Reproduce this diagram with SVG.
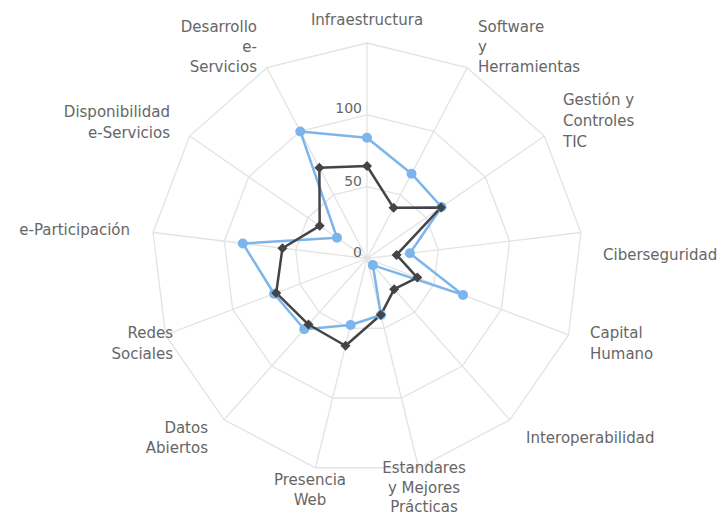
<svg xmlns="http://www.w3.org/2000/svg" width="722" height="516" viewBox="0 0 722 516">
<style>
.grid{fill:none;stroke:#e3e3e3;stroke-width:1.3}
.lbl{font-family:"DejaVu Sans",Verdana,sans-serif;font-size:15px;fill:#666666}
.num{font-family:"DejaVu Sans",Verdana,sans-serif;font-size:14px;fill:#666666;text-anchor:end}
.s1{fill:none;stroke:#7cb5ec;stroke-width:2.5;stroke-linejoin:round}
.s2{fill:none;stroke:#434348;stroke-width:2.5;stroke-linejoin:round}
</style>
<defs>
<circle id="dot" r="5" fill="#7cb5ec"/>
<path id="dia" d="M0,-5L5,0L0,5L-5,0Z" fill="#434348"/>
</defs>
<rect width="722" height="516" fill="#ffffff"/>
<g id="grid">
<polygon class="grid" points="367,43 467.15,67.68 544.35,136.08 580.93,232.52 568.5,334.92 509.9,419.8 418.57,467.74 315.43,467.74 224.1,419.8 165.5,334.92 153.07,232.52 189.65,136.08 266.85,67.68"/>
<polygon class="grid" points="367,114.83 433.77,131.28 485.24,176.89 509.62,241.18 501.33,309.44 462.27,366.04 401.38,397.99 332.62,397.99 271.73,366.04 232.67,309.44 224.38,241.18 248.76,176.89 300.23,131.28"/>
<polygon class="grid" points="367,186.67 400.38,194.9 426.12,217.7 438.31,249.84 434.16,283.97 414.63,312.27 384.19,328.24 349.81,328.24 319.37,312.27 299.84,283.97 295.69,249.84 307.88,217.7 333.62,194.9"/>
<path class="grid" d="M367,258.5L367,43M367,258.5L467.15,67.68M367,258.5L544.35,136.08M367,258.5L580.93,232.52M367,258.5L568.5,334.92M367,258.5L509.9,419.8M367,258.5L418.57,467.74M367,258.5L315.43,467.74M367,258.5L224.1,419.8M367,258.5L165.5,334.92M367,258.5L153.07,232.52M367,258.5L189.65,136.08M367,258.5L266.85,67.68"/>
</g>
<g id="scale">
<text class="num" x="362" y="113">100</text>
<text class="num" x="362" y="186">50</text>
<text class="num" x="362" y="257">0</text>
</g>
<g id="connectors">
<polygon class="s1" points="367,137.7 411.52,173.67 441.56,207.03 409.89,253.29 463.03,294.92 372.84,265.09 380.93,315.01 350.61,325.01 304.27,329.31 274.06,293.75 242.81,243.42 336.96,237.77 300.31,131.44"/>
<polygon class="s2" points="367,166 393.58,207.85 440.99,207.43 396.58,254.91 417.3,277.58 394.19,289.19 380.88,314.81 345.49,345.79 308.51,324.52 276.21,292.93 282.42,248.23 319.68,225.84 319.37,167.74"/>
</g>
<g id="series1-markers">
<use href="#dot" x="367" y="137.7"/><use href="#dot" x="411.52" y="173.67"/><use href="#dot" x="441.56" y="207.03"/><use href="#dot" x="409.89" y="253.29"/><use href="#dot" x="463.03" y="294.92"/><use href="#dot" x="372.84" y="265.09"/><use href="#dot" x="380.93" y="315.01"/><use href="#dot" x="350.61" y="325.01"/><use href="#dot" x="304.27" y="329.31"/><use href="#dot" x="274.06" y="293.75"/><use href="#dot" x="242.81" y="243.42"/><use href="#dot" x="336.96" y="237.77"/><use href="#dot" x="300.31" y="131.44"/>
</g>
<g id="series2-markers">
<use href="#dia" x="367" y="166"/><use href="#dia" x="393.58" y="207.85"/><use href="#dia" x="440.99" y="207.43"/><use href="#dia" x="396.58" y="254.91"/><use href="#dia" x="417.3" y="277.58"/><use href="#dia" x="394.19" y="289.19"/><use href="#dia" x="380.88" y="314.81"/><use href="#dia" x="345.49" y="345.79"/><use href="#dia" x="308.51" y="324.52"/><use href="#dia" x="276.21" y="292.93"/><use href="#dia" x="282.42" y="248.23"/><use href="#dia" x="319.68" y="225.84"/><use href="#dia" x="319.37" y="167.74"/>
</g>
<g id="label-infraestructura"><text class="lbl" x="367" y="25" text-anchor="middle">Infraestructura</text></g>
<g id="label-software"><text class="lbl" x="478" y="32">Software<tspan x="478" dy="20">y</tspan><tspan x="478" dy="20">Herramientas</tspan></text></g>
<g id="label-gestion"><text class="lbl" x="563" y="105">Gestión y<tspan x="563" dy="21">Controles</tspan><tspan x="563" dy="21">TIC</tspan></text></g>
<g id="label-ciberseguridad"><text class="lbl" x="603" y="260">Ciberseguridad</text></g>
<g id="label-capital"><text class="lbl" x="590" y="338">Capital<tspan x="590" dy="21">Humano</tspan></text></g>
<g id="label-interoperabilidad"><text class="lbl" x="526" y="443">Interoperabilidad</text></g>
<g id="label-estandares"><text class="lbl" x="424" y="473" text-anchor="middle">Estandares<tspan x="424" dy="19.5">y Mejores</tspan><tspan x="424" dy="19.5">Prácticas</tspan></text></g>
<g id="label-presencia"><text class="lbl" x="310" y="485" text-anchor="middle">Presencia<tspan x="310" dy="20">Web</tspan></text></g>
<g id="label-datos"><text class="lbl" x="208" y="433" text-anchor="end">Datos<tspan x="208" dy="20">Abiertos</tspan></text></g>
<g id="label-redes"><text class="lbl" x="173" y="338" text-anchor="end">Redes<tspan x="173" dy="21">Sociales</tspan></text></g>
<g id="label-eparticipacion"><text class="lbl" x="130" y="235" text-anchor="end">e-Participación</text></g>
<g id="label-disponibilidad"><text class="lbl" x="170" y="117" text-anchor="end">Disponibilidad<tspan x="170" dy="21">e-Servicios</tspan></text></g>
<g id="label-desarrollo"><text class="lbl" x="257" y="32" text-anchor="end">Desarrollo<tspan x="257" dy="20">e-</tspan><tspan x="257" dy="20">Servicios</tspan></text></g>
</svg>
